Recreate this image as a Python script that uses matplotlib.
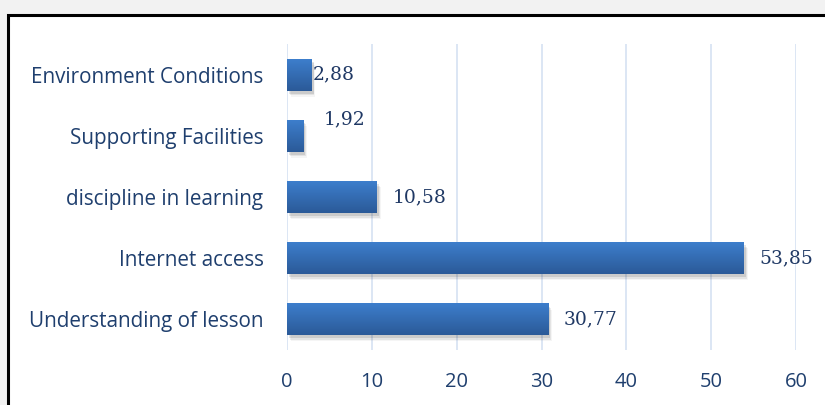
import numpy as np
import matplotlib
matplotlib.use('Agg')
import matplotlib.pyplot as plt
import matplotlib.patches as mpatches

# data (bottom to top)
categories = ['Understanding of lesson', 'Internet access', 'discipline in learning',
              'Supporting Facilities', 'Environment Conditions']
values = [30.77, 53.85, 10.58, 1.92, 2.88]
value_labels = ['30,77', '53,85', '10,58', '1,92', '2,88']
x_ticks = [0, 10, 20, 30, 40, 50, 60]

label_color = '#1f3f6e'
num_color = '#1f3864'
grid_color = '#d5e2f2'

fig = plt.figure(figsize=(8.25, 4.05), dpi=100)
fig.patch.set_facecolor('#f2f2f2')

# white box with black border (runs off the right and bottom edges)
frame = mpatches.Rectangle((8 / 825, -0.05), 1.0, 1 - 15 / 405 + 0.05,
                           transform=fig.transFigure, facecolor='white',
                           edgecolor='black', linewidth=2.2, zorder=-5)
fig.patches.append(frame)

ax = fig.add_axes([287 / 825, 1 - 350 / 405, (796 - 287) / 825, (350 - 44) / 405])
ax.set_facecolor('none')
ax.set_zorder(1)

ypos = np.arange(len(categories))
bar_h = 0.52

# gradient image for bars
grad = np.linspace(0, 1, 64).reshape(-1, 1)
top_c = np.array([0x3d, 0x7e, 0xcc]) / 255
bot_c = np.array([0x2b, 0x5a, 0x98]) / 255
grad_img = top_c * (1 - grad[..., None]) + bot_c * grad[..., None]
grad_img = grad_img.reshape(64, 1, 3)

for y, v in zip(ypos, values):
    # soft shadow
    for k, a in enumerate([0.10, 0.07, 0.04]):
        sh = mpatches.Rectangle((0.25 + k * 0.1, y - bar_h / 2 - 0.05 - k * 0.025),
                                v, bar_h, facecolor='black', alpha=a,
                                edgecolor='none', zorder=2)
        ax.add_patch(sh)
    ax.imshow(grad_img, extent=(0, v, y - bar_h / 2, y + bar_h / 2),
              aspect='auto', origin='upper', zorder=3, interpolation='bilinear')

# value labels (offsets in points)
offsets = {0: (11.5, 0), 1: (11.5, 0), 2: (11.5, 0), 3: (15, 11.5), 4: (1, 0)}
for i, (v, lab) in enumerate(zip(values, value_labels)):
    dx, dy = offsets[i]
    ax.annotate(lab, (v, ypos[i]), xytext=(dx, dy), textcoords='offset points',
                ha='left', va='center', fontsize=13.5, family='DejaVu Serif',
                color=num_color, zorder=4)

ax.set_xlim(0, 60)
ax.set_ylim(-0.5, 4.5)
ax.set_xticks(x_ticks)
ax.set_xticklabels([str(t) for t in x_ticks], fontsize=14.5, family='Open Sans',
                   color=label_color)
ax.set_yticks(ypos)
ax.set_yticklabels(categories, fontsize=14.9, family='Open Sans', color=label_color)
ax.tick_params(axis='both', length=0)
ax.tick_params(axis='x', pad=16)
ax.tick_params(axis='y', pad=17)
ax.xaxis.grid(True, color=grid_color, linewidth=1.2)
ax.set_axisbelow(True)
for s in ax.spines.values():
    s.set_visible(False)

fig.savefig('out.png', dpi=100, facecolor=fig.get_facecolor())
